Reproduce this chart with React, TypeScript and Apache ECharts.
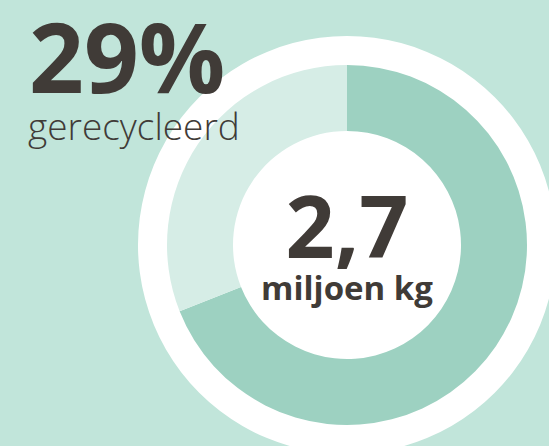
import React, { useEffect, useRef } from "react";
import * as echarts from "echarts";

const categories = ["niet gerecycleerd", "gerecycleerd"];
const shares = [69, 31];
const headline = "29%";
const headlineSub = "gerecycleerd";
const centerValue = "2,7";
const centerUnit = "miljoen kg";

const BG = "#c1e5da";
const DARK = "#9dd1c1";
const LIGHT = "#d6ede6";
const TEXT = "#403b37";
const FONT = "'Open Sans', 'Noto Sans', sans-serif";

export default function App() {
  const ref = useRef<HTMLDivElement>(null);
  useEffect(() => {
    if (!ref.current) return;
    const chart = echarts.init(ref.current, null, { renderer: "svg" });
    const center = [347, 245];
    chart.setOption({
      animation: false,
      backgroundColor: BG,
      series: [
        {
          type: "pie",
          silent: true,
          center,
          radius: [0, 209],
          label: { show: false },
          labelLine: { show: false },
          z: 1,
          data: [{ value: 1, name: "ring", itemStyle: { color: "#ffffff" } }],
        },
        {
          type: "pie",
          silent: true,
          center,
          radius: [114, 180],
          startAngle: 90,
          clockwise: true,
          label: { show: false },
          labelLine: { show: false },
          z: 2,
          data: categories.map((c, i) => ({
            name: c,
            value: shares[i],
            itemStyle: { color: i === 0 ? DARK : LIGHT, borderWidth: 0 },
          })),
        },
      ],
      graphic: [
        {
          type: "text",
          x: 29,
          y: 55,
          z: 10,
          style: {
            text: headline,
            font: `bold 96px ${FONT}`,
            lineHeight: 72,
            fill: TEXT,
            align: "left",
            verticalAlign: "middle",
          },
        },
        {
          type: "text",
          x: 28,
          y: 125,
          z: 10,
          style: {
            text: headlineSub,
            font: `300 37px ${FONT}`,
            lineHeight: 34,
            fill: TEXT,
            align: "left",
            verticalAlign: "middle",
          },
        },
        {
          type: "text",
          x: 347,
          y: 224,
          z: 10,
          style: {
            text: centerValue,
            font: `bold 86px ${FONT}`,
            lineHeight: 68,
            fill: TEXT,
            align: "center",
            verticalAlign: "middle",
          },
        },
        {
          type: "text",
          x: 347,
          y: 287,
          z: 10,
          style: {
            text: centerUnit,
            font: `bold 33px ${FONT}`,
            lineHeight: 32,
            fill: TEXT,
            align: "center",
            verticalAlign: "middle",
          },
        },
      ],
    });
    return () => chart.dispose();
  }, []);
  return (
    <div
      ref={ref}
      style={{ position: "fixed", left: 0, top: 0, width: 549, height: 446 }}
    />
  );
}
